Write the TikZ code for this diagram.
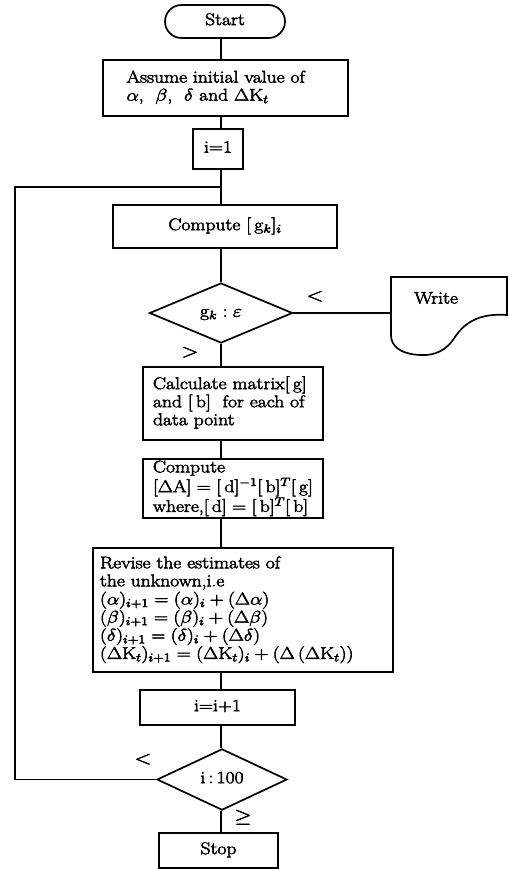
\RequirePackage{fix-cm}
\documentclass[tikz,border=0pt]{standalone}
\usepackage{fontspec}
\usepackage{graphicx}
\usetikzlibrary{shapes.geometric}
\newcommand{\hvon}{\special{pdf:literal direct 2 Tr 0.45 w}}
\newcommand{\hvoff}{\special{pdf:literal direct 0 Tr}}
\newcommand{\sxl}[1]{\scalebox{1.15}[1]{\hvon\begin{tabular}{@{}l@{}}#1\end{tabular}\hvoff}}
\newcommand{\sxc}[1]{\scalebox{1.15}[1]{\hvon\begin{tabular}{@{}c@{}}#1\end{tabular}\hvoff}}
\begin{document}
\begin{tikzpicture}[x=1pt,y=-1pt,
  box/.style={draw,line width=1.7pt,rectangle,inner sep=0pt,font=\fontsize{17}{18}\selectfont},
  dec/.style={draw,line width=1.7pt,diamond,inner sep=0pt,font=\fontsize{17}{18}\selectfont},
  conn/.style={line width=1.5pt},
  lbl/.style={font=\fontsize{19}{20}\selectfont,inner sep=0pt}]
\useasboundingbox (0,0) rectangle (509,869);
\node[box,rounded corners=16.5pt,minimum width=120pt,minimum height=33pt] (start) at (225,21.5) {\sxc{Start}};
\node[box,minimum width=245pt,minimum height=56pt] (assume) at (225.5,88)
  {\makebox[198pt][l]{\sxl{Assume initial value of\\ $\alpha$,\ \ $\beta$,\ \ $\delta$ and $\Delta\mathrm{K}_t$}}};
\node[box,minimum width=50pt,minimum height=40pt] (i1) at (218,149) {\sxc{i$=$1}};
\node[box,minimum width=224pt,minimum height=43pt] (comp) at (225,226.5) {\sxc{Compute $[\,\mathrm{g}_k]_i$}};
\node[dec,minimum width=143pt,minimum height=60pt] (d1) at (221,313) {\sxc{$\mathrm{g}_k:\varepsilon$}};
\node[inner sep=0pt,font=\fontsize{17}{18}\selectfont] (write) at (436,300) {\sxc{Write}};
\coordinate (wl) at (391,313);
\draw[line width=1.7pt] (391,277) -- (507,277) -- (507,315)
  .. controls (480,313) and (465,322) .. (455,337)
  .. controls (447,350) and (435,356) .. (420,355)
  .. controls (400,354) and (391,346) .. (391,335) -- cycle;
\node[box,minimum width=180pt,minimum height=73pt] (calc) at (233,403.5)
  {\makebox[160pt][l]{\sxl{Calculate matrix$[\,\mathrm{g}]$\\ and $[\,\mathrm{b}]$\ \ for each of\\ data point}}};
\node[box,minimum width=180pt,minimum height=59pt] (compA) at (233,488.5)
  {\makebox[160pt][l]{\sxl{Compute\\ $[\Delta\mathrm{A}]=[\,\mathrm{d}]^{-1}[\,\mathrm{b}]^{T}[\,\mathrm{g}]$\\ where,$[\,\mathrm{d}]=[\,\mathrm{b}]^{T}[\,\mathrm{b}]$}}};
\node[box,minimum width=300pt,minimum height=124pt] (rev) at (243,610)
  {\makebox[286pt][l]{\sxl{Revise the estimates of\\ the unknown,i.e\\
   $(\alpha)_{i+1}=(\alpha)_i+(\Delta\alpha)$\\
   $(\beta)_{i+1}=(\beta)_i+(\Delta\beta)$\\
   $(\delta)_{i+1}=(\delta)_i+(\Delta\delta)$\\
   $(\Delta\mathrm{K}_t)_{i+1}=(\Delta\mathrm{K}_t)_i+(\Delta\,(\Delta\mathrm{K}_t))$}}};
\node[box,minimum width=155pt,minimum height=35pt] (inc) at (217.5,707.5) {\sxc{i$=$i$+$1}};
\node[dec,minimum width=130pt,minimum height=55pt] (d2) at (222,779.5) {\sxc{i\,:\,100}};
\node[box,minimum width=119pt,minimum height=35pt] (stop) at (218.5,850.5) {\sxc{Stop}};
\coordinate (loopin) at (221,187);
\coordinate (lt) at (15,187);
\coordinate (lb) at (15,779.5);
% connectors
\draw[conn] (start.south -| d1) -- (assume.north -| d1);
\draw[conn] (assume.south -| d1) -- (i1.north -| d1);
\draw[conn] (i1.south -| d1) -- (comp.north -| d1);
\draw[conn] (comp.south -| d1) -- (d1.north);
\draw[conn] (d1.east) -- (wl);
\draw[conn] (d1.south) -- (calc.north -| d1);
\draw[conn] (calc.south -| d1) -- (compA.north -| d1);
\draw[conn] (compA.south -| d1) -- (rev.north -| d1);
\draw[conn] (rev.south -| d1) -- (inc.north -| d1);
\draw[conn] (inc.south -| d1) -- (d2.north -| d1);
\draw[conn] (d2.south -| d1) -- (stop.north -| d1);
\draw[conn] (d2.west) -- (lb) -- (lt) -- (loopin);
% labels
\node[lbl] (l1) at (315,297) {\sxc{$<$}};
\node[lbl] (l2) at (190,353) {\sxc{$>$}};
\node[lbl] (l3) at (143,760) {\sxc{$<$}};
\node[lbl] (l4) at (243,818) {\sxc{$\geq$}};
\end{tikzpicture}
\end{document}
